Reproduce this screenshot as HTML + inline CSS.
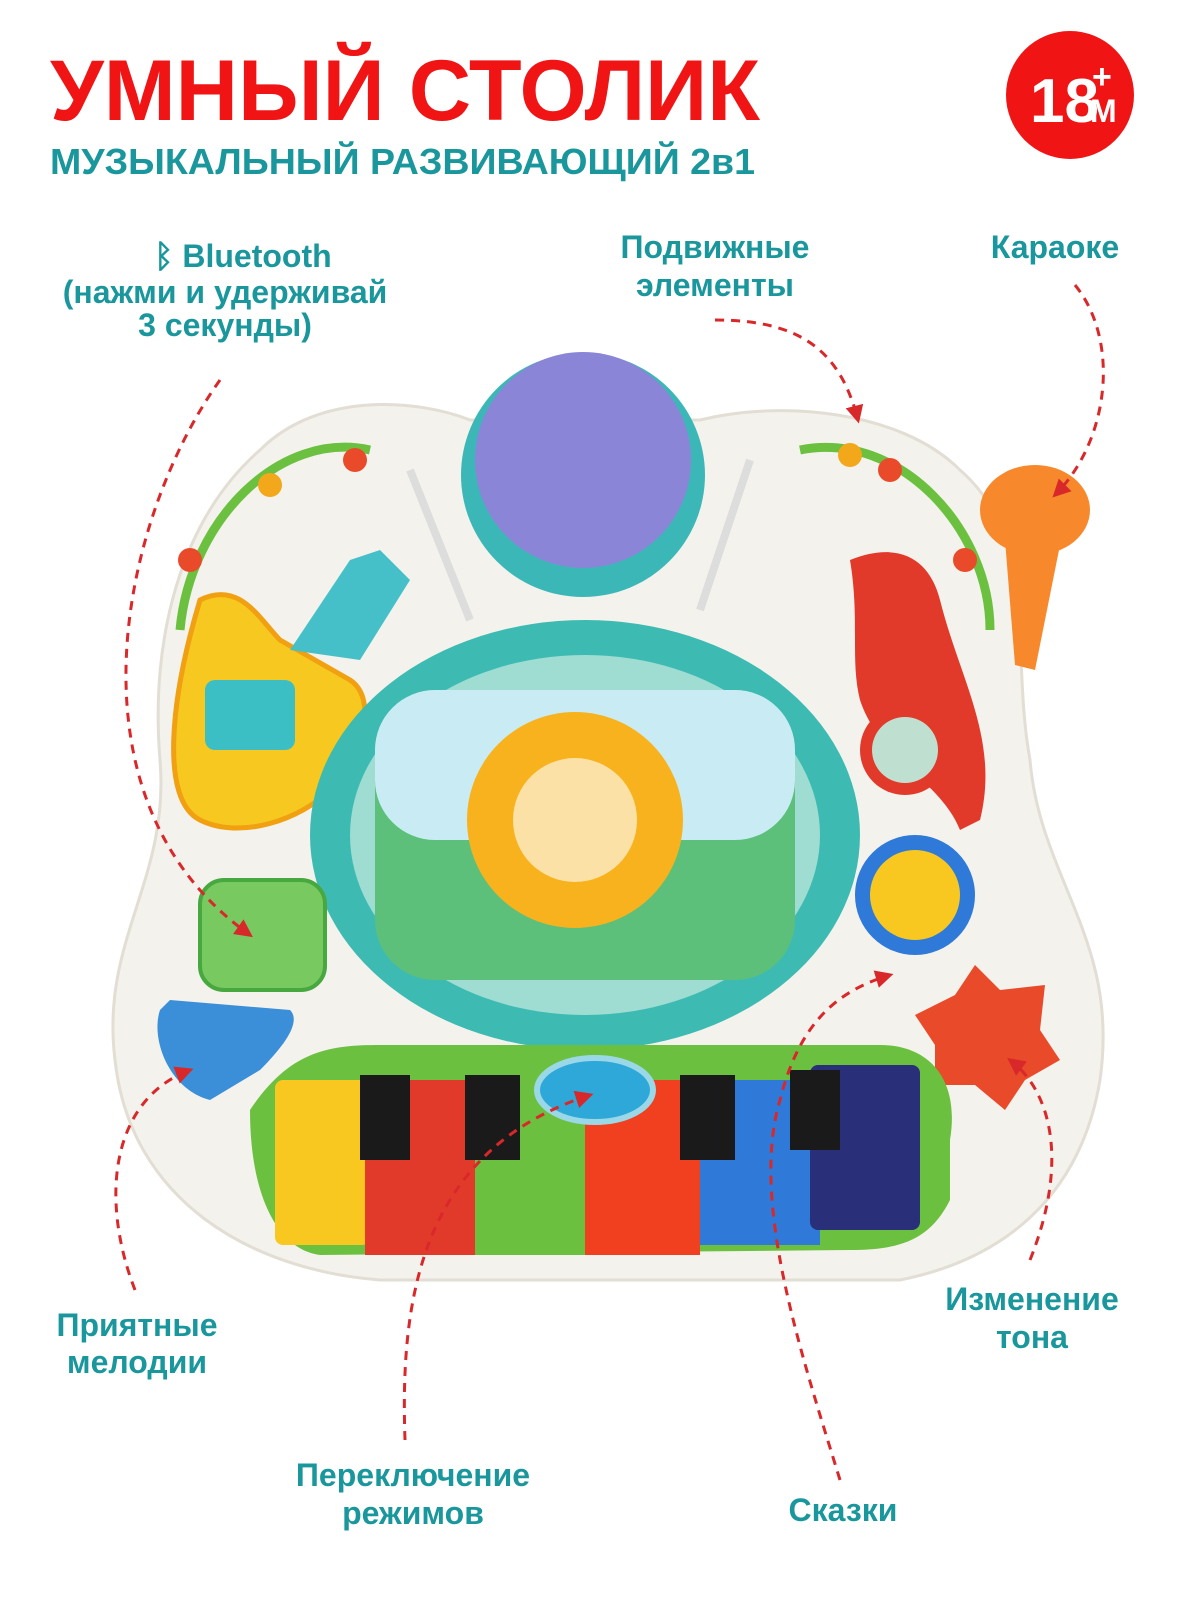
<!DOCTYPE html>
<html><head><meta charset="utf-8"><style>
html,body{margin:0;padding:0;background:#fff}
svg{display:block}
text{font-family:"Liberation Sans","DejaVu Sans",sans-serif;font-weight:bold}
.t{fill:#1a979c;font-size:32px;text-anchor:middle}
.d{fill:none;stroke:#d8282a;stroke-width:3;stroke-dasharray:9 7}
</style></head><body>
<svg width="1200" height="1600" viewBox="0 0 1200 1600" xmlns="http://www.w3.org/2000/svg">
<defs>
<marker id="a" viewBox="0 0 10 10" refX="8" refY="5" markerWidth="6" markerHeight="6" orient="auto"><path d="M0 0L10 5L0 10z" fill="#d8282a"/></marker>
</defs>
<text x="50" y="120" font-size="86" fill="#f01414" textLength="710" lengthAdjust="spacingAndGlyphs">УМНЫЙ СТОЛИК</text>
<text x="50" y="174" font-size="36" fill="#1a979c" textLength="705" lengthAdjust="spacingAndGlyphs">МУЗЫКАЛЬНЫЙ РАЗВИВАЮЩИЙ 2в1</text>
<circle cx="1070" cy="95" r="64" fill="#f01414"/>
<text x="1030" y="122" font-size="62" fill="#fff">18</text>
<text x="1092" y="88" font-size="34" fill="#fff">+</text>
<text x="1090" y="122" font-size="32" fill="#fff">М</text>

<text class="t" x="243" y="267">ᛒ Bluetooth</text>
<text class="t" x="225" y="303" font-size="28">(нажми и удерживай</text>
<text class="t" x="225" y="336" font-size="28">3 секунды)</text>
<text class="t" x="715" y="258">Подвижные</text>
<text class="t" x="715" y="296">элементы</text>
<text class="t" x="1055" y="258">Караоке</text>
<text class="t" x="137" y="1336">Приятные</text>
<text class="t" x="137" y="1373">мелодии</text>
<text class="t" x="1032" y="1310">Изменение</text>
<text class="t" x="1032" y="1348">тона</text>
<text class="t" x="413" y="1486">Переключение</text>
<text class="t" x="413" y="1524">режимов</text>
<text class="t" x="843" y="1521">Сказки</text>

<!-- toy body -->
<path d="M260 450 C320 390 420 400 470 420 L700 420 C780 400 900 410 960 470 C1040 540 1010 650 1030 760 C1040 880 1120 940 1100 1080 C1080 1200 1000 1260 900 1280 L380 1280 C250 1270 130 1200 115 1060 C100 940 170 880 160 760 C150 640 180 520 260 450Z" fill="#f4f2ec" stroke="#e2ded4" stroke-width="3"/>
<path d="M180 630 C190 520 280 430 370 450" fill="none" stroke="#6cc040" stroke-width="9"/>
<path d="M800 450 C900 430 990 530 990 630" fill="none" stroke="#6cc040" stroke-width="9"/>
<circle cx="190" cy="560" r="12" fill="#e94b2a"/><circle cx="270" cy="485" r="12" fill="#f2a81a"/><circle cx="355" cy="460" r="12" fill="#e94b2a"/>
<circle cx="850" cy="455" r="12" fill="#f2a81a"/><circle cx="890" cy="470" r="12" fill="#e94b2a"/><circle cx="965" cy="560" r="12" fill="#e94b2a"/>
<ellipse cx="1035" cy="510" rx="55" ry="45" fill="#f7892c"/>
<path d="M1005 540 L1060 545 L1035 670 L1015 665Z" fill="#f7892c"/>
<circle cx="583" cy="475" r="122" fill="#3cb7b8"/>
<circle cx="583" cy="460" r="108" fill="#8b85d8"/>
<line x1="410" y1="470" x2="470" y2="620" stroke="#ddd" stroke-width="8"/>
<line x1="750" y1="460" x2="700" y2="610" stroke="#ddd" stroke-width="8"/>
<path d="M200 600 C240 580 260 620 280 640 L350 680 C380 700 360 760 330 790 C300 820 240 840 200 820 C160 800 170 700 200 600Z" fill="#f7c820" stroke="#f0a010" stroke-width="5"/>
<rect x="205" y="680" width="90" height="70" rx="10" fill="#3cbfc4"/>
<path d="M290 650 L350 560 L380 550 L410 580 L360 660Z" fill="#46c0c8"/>
<path d="M850 560 C900 540 930 560 940 600 C960 680 1000 740 980 820 L960 830 C940 780 880 760 860 700 C850 660 860 620 850 560Z" fill="#e23a2a"/>
<circle cx="905" cy="750" r="45" fill="#e23a2a"/><circle cx="905" cy="750" r="33" fill="#bfe0d0"/>
<ellipse cx="585" cy="835" rx="275" ry="215" fill="#3dbbb3"/>
<ellipse cx="585" cy="835" rx="235" ry="180" fill="#9fdcd2"/>
<rect x="375" y="690" width="420" height="290" rx="60" fill="#5cc07a"/>
<rect x="375" y="690" width="420" height="150" rx="60" fill="#c9ecf4"/>
<circle cx="575" cy="820" r="108" fill="#f8b21e"/>
<circle cx="575" cy="820" r="62" fill="#fbe1a5"/>
<rect x="200" y="880" width="125" height="110" rx="24" fill="#77c960" stroke="#47a840" stroke-width="4"/>
<path d="M170 1000 L290 1010 C300 1020 290 1040 260 1070 L210 1100 C170 1090 150 1040 160 1010Z" fill="#3a8fd8"/>
<circle cx="915" cy="895" r="60" fill="#2f7ad8"/><circle cx="915" cy="895" r="45" fill="#f8c820"/>
<path d="M975 965 L1000 990 L1045 985 L1040 1030 L1060 1060 L1025 1080 L1005 1110 L975 1085 L935 1085 L935 1045 L915 1015 L955 995Z" fill="#e94b2a"/>
<path d="M250 1110 C290 1050 330 1045 380 1045 L880 1045 C930 1045 960 1080 950 1140 L950 1200 C930 1240 900 1250 850 1250 L320 1255 C280 1250 250 1200 250 1110Z" fill="#6cc040"/>
<rect x="275" y="1080" width="95" height="165" rx="8" fill="#f8c820"/>
<rect x="365" y="1080" width="110" height="175" fill="#e23a2a"/>
<rect x="475" y="1080" width="110" height="175" fill="#6cc040"/>
<rect x="585" y="1080" width="115" height="175" fill="#f04020"/>
<rect x="700" y="1080" width="120" height="165" fill="#2f7ad8"/>
<rect x="810" y="1065" width="110" height="165" rx="8" fill="#2a2f7a"/>
<rect x="360" y="1075" width="50" height="85" fill="#1a1a1a"/>
<rect x="465" y="1075" width="55" height="85" fill="#1a1a1a"/>
<rect x="680" y="1075" width="55" height="85" fill="#1a1a1a"/>
<rect x="790" y="1070" width="50" height="80" fill="#1a1a1a"/>
<ellipse cx="595" cy="1090" rx="58" ry="32" fill="#2ea8d8" stroke="#9ad8e8" stroke-width="6"/>

<path class="d" d="M220 380 C120 520 60 800 250 935" marker-end="url(#a)"/>
<path class="d" d="M715 320 C800 320 840 350 858 420" marker-end="url(#a)"/>
<path class="d" d="M1075 285 C1120 340 1110 440 1055 495" marker-end="url(#a)"/>
<path class="d" d="M135 1290 C100 1200 110 1100 190 1070" marker-end="url(#a)"/>
<path class="d" d="M1030 1260 C1070 1160 1050 1090 1010 1060" marker-end="url(#a)"/>
<path class="d" d="M405 1440 C400 1300 420 1150 590 1095" marker-end="url(#a)"/>
<path class="d" d="M840 1480 C800 1350 750 1200 780 1100 C800 1020 840 990 890 975" marker-end="url(#a)"/>
</svg>
</body></html>
